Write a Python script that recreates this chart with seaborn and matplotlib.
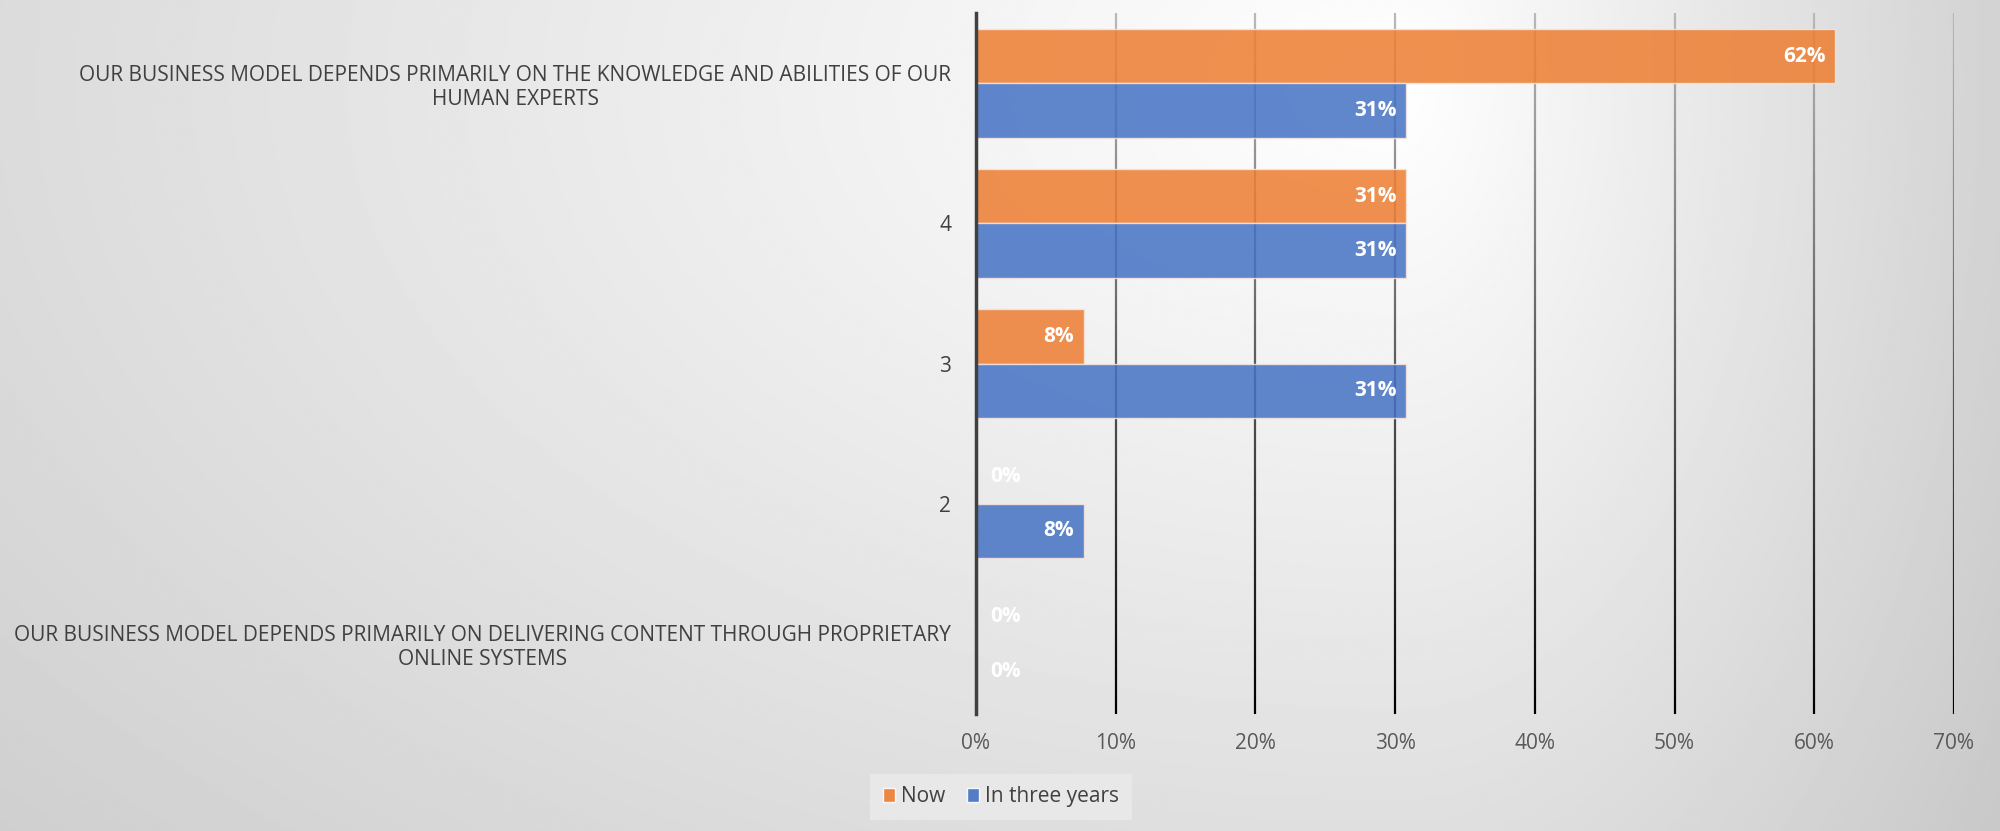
import numpy as np
import pandas as pd
import matplotlib
matplotlib.use('Agg')
import matplotlib.pyplot as plt
import seaborn as sns
from matplotlib.collections import LineCollection
from matplotlib.patches import Rectangle
from matplotlib.ticker import PercentFormatter

# data (top to bottom)
categories = [
    'OUR BUSINESS MODEL DEPENDS PRIMARILY ON THE KNOWLEDGE AND ABILITIES OF OUR\nHUMAN EXPERTS',
    '4',
    '3',
    '2',
    'OUR BUSINESS MODEL DEPENDS PRIMARILY ON DELIVERING CONTENT THROUGH PROPRIETARY\nONLINE SYSTEMS',
]
now = [0.615, 0.308, 0.077, 0.0, 0.0]
in_three_years = [0.308, 0.308, 0.308, 0.077, 0.0]
series = ['Now', 'In three years']
colors = ['#ED7D31', '#4472C4']
x_ticks = [0, 0.1, 0.2, 0.3, 0.4, 0.5, 0.6, 0.7]

df = pd.DataFrame({
    'category': categories * 2,
    'value': now + in_three_years,
    'series': [series[0]] * len(categories) + [series[1]] * len(categories),
})

sns.set_style('white')
plt.rcParams['font.family'] = ['Open Sans', 'DejaVu Sans']

fig = plt.figure(figsize=(20, 8.31), dpi=100)

# grey background, lightest near the top right of the plot
bg = fig.add_axes([0, 0, 1, 1], zorder=-10)
yy, xx = np.mgrid[0:1:300j, 0:1:700j]
dx = xx - 0.70
dx = np.where(dx > 0, dx * 2.9, dx)
dy = (yy - 0.10) * 0.7
bgval = np.clip(1 - 0.2 * np.sqrt(dx ** 2 + dy ** 2), 0, 1)
bg.imshow(bgval, cmap='gray', vmin=0, vmax=1, aspect='auto',
          extent=[0, 1, 0, 1], origin='upper', interpolation='bilinear')
bg.axis('off')

ax = fig.add_axes([0.488, 0.141, 0.489, 0.843])
ax.patch.set_alpha(0)

sns.barplot(data=df, y='category', x='value', hue='series', hue_order=series,
            order=categories, palette=colors, width=0.78, saturation=1,
            alpha=0.85, edgecolor='#f6e6dc', linewidth=1, ax=ax, zorder=3)

ax.set_xlim(0, 0.7)
ax.set_ylim(len(categories) - 0.5, -0.5)

# gridlines fading from light grey (top) to black (bottom)
ys = np.linspace(-0.5, len(categories) - 0.5, 80)
shade = np.linspace(0.72, 0.0, len(ys) - 1)
for xt in x_ticks[1:]:
    segs = [[(xt, ys[i]), (xt, ys[i + 1])] for i in range(len(ys) - 1)]
    lc = LineCollection(segs, colors=[(s, s, s) for s in shade], linewidths=1.6, zorder=1)
    ax.add_collection(lc)

for side in ['top', 'right', 'bottom']:
    ax.spines[side].set_visible(False)
ax.spines['left'].set_color('#404040')
ax.spines['left'].set_linewidth(2.5)
ax.spines['left'].set_zorder(5)

ax.set_xticks(x_ticks)
ax.xaxis.set_major_formatter(PercentFormatter(1.0, decimals=0))
ax.tick_params(axis='x', length=0, pad=14, labelsize=15, labelcolor='#595959')
ax.tick_params(axis='y', length=0, pad=18, labelsize=15, labelcolor='#404040')
for lab in ax.get_yticklabels():
    lab.set_multialignment('center')
ax.set_xlabel('')
ax.set_ylabel('')

# data labels
for cont, vals in zip(ax.containers, [now, in_three_years]):
    for bar, v in zip(cont, vals):
        yc = bar.get_y() + bar.get_height() / 2
        if v > 0:
            ax.annotate(f'{v * 100:.0f}%', (v, yc), xytext=(-7, 0), textcoords='offset points',
                        ha='right', va='center', color='white', fontweight='bold', fontsize=15, zorder=6)
        else:
            ax.annotate(f'{v * 100:.0f}%', (0, yc), xytext=(10, 0), textcoords='offset points',
                        ha='left', va='center', color='white', fontweight='bold', fontsize=15, zorder=6)

if ax.legend_ is not None:
    ax.legend_.remove()
handles = [Rectangle((0, 0), 1, 1, facecolor=c, edgecolor='white', alpha=0.9) for c in colors]
leg = fig.legend(handles, series, loc='center', bbox_to_anchor=(0.5005, 0.041), ncol=2,
                 fontsize=15, frameon=True, handlelength=0.6, handleheight=0.6,
                 handletextpad=0.3, columnspacing=1.0, borderpad=0.6, borderaxespad=0)
leg.get_frame().set_facecolor('#e8e8e8')
leg.get_frame().set_edgecolor('none')
leg.get_frame().set_alpha(1)
leg.get_frame().set_boxstyle('square', pad=0)
for t in leg.get_texts():
    t.set_color('#404040')

fig.savefig('out.png', dpi=100)
